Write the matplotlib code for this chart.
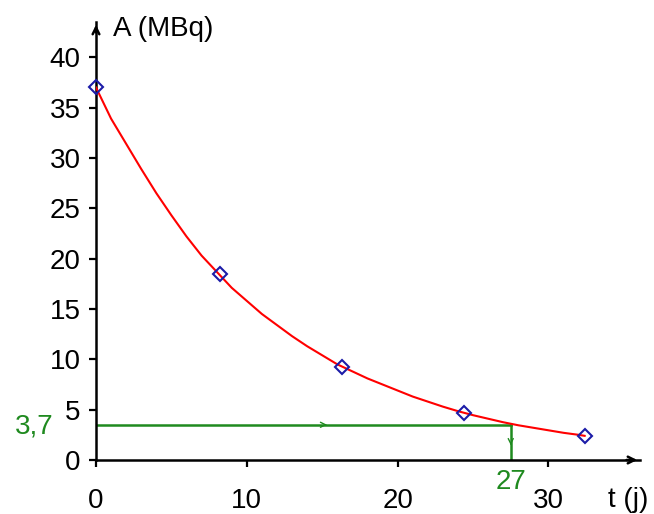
import matplotlib
matplotlib.use("Agg")
import matplotlib.pyplot as plt

plt.rcParams['font.family'] = ['Liberation Sans', 'DejaVu Sans']

# measured points (t in days, A in MBq)
t_pts = [0, 8.2, 16.3, 24.4, 32.4]
A_pts = [37, 18.5, 9.25, 4.65, 2.4]

# red curve
t_curve = [0, 1, 2, 3, 4, 5, 6, 7, 8, 9, 10, 11, 12, 13, 14, 15, 16, 17,
           18, 19, 20, 21, 22, 23, 24, 25, 26, 27, 28, 29, 30, 31, 32, 32.4]
A_curve = [37, 33.9, 31.4, 28.9, 26.5, 24.3, 22.2, 20.3, 18.7, 17.1, 15.8,
           14.5, 13.4, 12.3, 11.3, 10.4, 9.5, 8.8, 8.1, 7.5, 6.9, 6.3, 5.8,
           5.3, 4.85, 4.45, 4.1, 3.75, 3.45, 3.2, 2.95, 2.7, 2.5, 2.4]

# graphical reading
t_read = 27.5
A_read = 3.5
t_label = "27"
A_label = "3,7"

x_ticks = [0, 10, 20, 30]
y_ticks = [0, 5, 10, 15, 20, 25, 30, 35, 40]

green = '#1f8a1f'
fs = 20

fig = plt.figure(figsize=(6.54, 5.14), dpi=100)
ax = fig.add_axes([96 / 654, 54 / 514, 544 / 654, 438 / 514])
ax.set_xlim(0, 36.07)
ax.set_ylim(0, 43.5)

for s in ['top', 'right']:
    ax.spines[s].set_visible(False)
for s in ['left', 'bottom']:
    ax.spines[s].set_linewidth(1.8)

ax.set_xticks(x_ticks)
ax.set_yticks(y_ticks)
ax.tick_params(axis='both', direction='out', length=5, width=1.6, labelsize=fs)
ax.tick_params(axis='x', pad=15)
ax.tick_params(axis='y', pad=6)

# arrow heads on the axes
ax.annotate('', xy=(1, 0), xytext=(0.97, 0), xycoords='axes fraction',
            arrowprops=dict(arrowstyle='->', color='black', lw=1.8, mutation_scale=12))
ax.annotate('', xy=(0, 1), xytext=(0, 0.97), xycoords='axes fraction',
            arrowprops=dict(arrowstyle='->', color='black', lw=1.8, mutation_scale=12))

# green construction lines
ax.plot([0, t_read], [A_read, A_read], color=green, lw=1.8, zorder=2)
ax.plot([t_read, t_read], [A_read, 0], color=green, lw=1.8, zorder=2)
ax.annotate('', xy=(15.5, A_read), xytext=(15.0, A_read),
            arrowprops=dict(arrowstyle='->', color=green, lw=1, mutation_scale=9))
ax.annotate('', xy=(t_read, 1.2), xytext=(t_read, 2.0),
            arrowprops=dict(arrowstyle='->', color=green, lw=1, mutation_scale=9))

# decay curve and points
ax.plot(t_curve, A_curve, color='red', lw=1.5, zorder=3)
ax.plot(t_pts, A_pts, linestyle='none', marker='D', markersize=7,
        markerfacecolor='none', markeredgecolor='#1c1ca8', markeredgewidth=1.5,
        zorder=4, clip_on=False)

ax.text(-0.078, A_read - 0.2, A_label, color=green, fontsize=fs,
        ha='right', va='center', transform=ax.get_yaxis_transform())
ax.text(t_read, -0.9, t_label, color=green, fontsize=fs,
        ha='center', va='top')

fig.text(113 / 654, 1 - 29 / 514, "A (MBq)", fontsize=fs, ha='left', va='center')
fig.text(628 / 654, 1 - 500 / 514, "t (j)", fontsize=fs, ha='center', va='center')

fig.savefig('out.png', dpi=100)
